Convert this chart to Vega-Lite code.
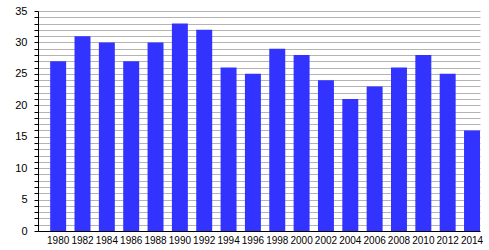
{
  "$schema": "https://vega.github.io/schema/vega-lite/v6.json",
  "autosize": "none",
  "width": 442,
  "height": 220,
  "padding": {"left": 38, "top": 11, "right": 9, "bottom": 19},
  "background": "white",
  "config": {
    "view": {"stroke": null},
    "font": "Liberation Sans"
  },
  "data": {
    "values": [
      {"year": "1980", "value": 27},
      {"year": "1982", "value": 31},
      {"year": "1984", "value": 30},
      {"year": "1986", "value": 27},
      {"year": "1988", "value": 30},
      {"year": "1990", "value": 33},
      {"year": "1992", "value": 32},
      {"year": "1994", "value": 26},
      {"year": "1996", "value": 25},
      {"year": "1998", "value": 29},
      {"year": "2000", "value": 28},
      {"year": "2002", "value": 24},
      {"year": "2004", "value": 21},
      {"year": "2006", "value": 23},
      {"year": "2008", "value": 26},
      {"year": "2010", "value": 28},
      {"year": "2012", "value": 25},
      {"year": "2014", "value": 16}
    ]
  },
  "mark": {"type": "bar", "color": "#3333ff"},
  "encoding": {
    "x": {
      "field": "year",
      "type": "ordinal",
      "scale": {"paddingInner": 0.344, "paddingOuter": 0.25, "align": 1},
      "axis": {
        "title": null,
        "labelAngle": 0,
        "ticks": false,
        "domainColor": "black",
        "domainWidth": 1,
        "labelFontSize": 10,
        "labelColor": "black",
        "labelPadding": 4,
        "labelOverlap": false
      }
    },
    "y": {
      "field": "value",
      "type": "quantitative",
      "scale": {"domain": [0, 35], "nice": false},
      "axis": {
        "title": null,
        "values": [0,1,2,3,4,5,6,7,8,9,10,11,12,13,14,15,16,17,18,19,20,21,22,23,24,25,26,27,28,29,30,31,32,33,34,35],
        "labelExpr": "datum.value % 5 == 0 ? datum.label : ''",
        "grid": true,
        "gridColor": "#b4b4b4",
        "gridWidth": 1,
        "domainColor": "black",
        "tickColor": "black",
        "tickSize": 4,
        "labelFontSize": 11,
        "labelColor": "black",
        "labelPadding": 7,
        "labelOverlap": false
      }
    }
  }
}
